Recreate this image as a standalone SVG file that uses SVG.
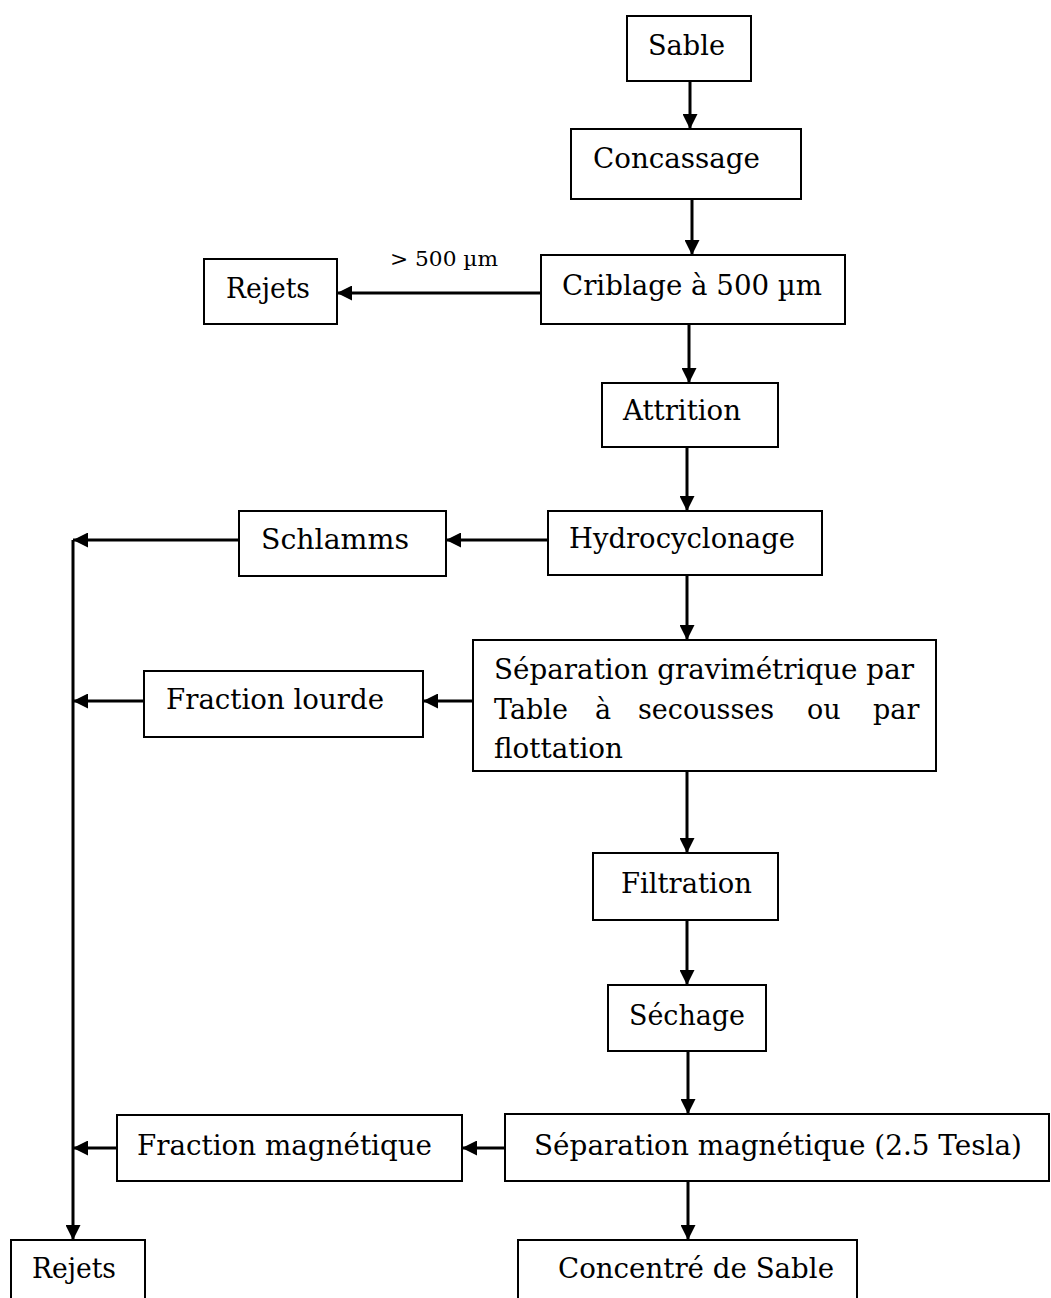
<svg xmlns="http://www.w3.org/2000/svg" width="1051" height="1298" viewBox="0 0 1051 1298">
  <style>
    .box { fill: #ffffff; stroke: #000000; stroke-width: 2; }
    .lbl { font-family: "DejaVu Serif", "Liberation Serif", serif; font-size: 27px; fill: #000000; }
    .small { font-family: "DejaVu Serif", "Liberation Serif", serif; font-size: 20px; fill: #000000; }
    .link { fill: none; stroke: #000000; stroke-width: 3; }
  </style>
  <defs>
    <marker id="arrow" markerUnits="userSpaceOnUse" markerWidth="15" markerHeight="15" refX="15" refY="7.5" orient="auto">
      <path d="M0,0 L15,7.5 L0,15 Z" fill="#000000"/>
    </marker>
  </defs>
  <rect width="1051" height="1298" fill="#ffffff"/>

  <!-- connectors -->
  <g id="connectors">
    <line class="link" x1="690" y1="81" x2="690" y2="129" marker-end="url(#arrow)"/>
    <line class="link" x1="692" y1="199" x2="692" y2="255" marker-end="url(#arrow)"/>
    <line class="link" x1="541" y1="293" x2="337" y2="293" marker-end="url(#arrow)"/>
    <line class="link" x1="689" y1="324" x2="689" y2="383" marker-end="url(#arrow)"/>
    <line class="link" x1="687" y1="447" x2="687" y2="511" marker-end="url(#arrow)"/>
    <line class="link" x1="548" y1="540" x2="446" y2="540" marker-end="url(#arrow)"/>
    <line class="link" x1="239" y1="540" x2="73" y2="540" marker-end="url(#arrow)"/>
    <line class="link" x1="73" y1="540" x2="73" y2="1240" marker-end="url(#arrow)"/>
    <line class="link" x1="687" y1="575" x2="687" y2="640" marker-end="url(#arrow)"/>
    <line class="link" x1="473" y1="701" x2="423" y2="701" marker-end="url(#arrow)"/>
    <line class="link" x1="144" y1="701" x2="73" y2="701" marker-end="url(#arrow)"/>
    <line class="link" x1="687" y1="771" x2="687" y2="853" marker-end="url(#arrow)"/>
    <line class="link" x1="687" y1="920" x2="687" y2="985" marker-end="url(#arrow)"/>
    <line class="link" x1="688" y1="1051" x2="688" y2="1114" marker-end="url(#arrow)"/>
    <line class="link" x1="505" y1="1148" x2="462" y2="1148" marker-end="url(#arrow)"/>
    <line class="link" x1="117" y1="1148" x2="73" y2="1148" marker-end="url(#arrow)"/>
    <line class="link" x1="688" y1="1181" x2="688" y2="1240" marker-end="url(#arrow)"/>
    <text class="small" x="390" y="266" textLength="108" lengthAdjust="spacingAndGlyphs">&gt; 500 µm</text>
  </g>

  <g id="sable">
    <rect class="box" x="627" y="16" width="124" height="65"/>
    <text class="lbl" x="648" y="55" textLength="77" lengthAdjust="spacingAndGlyphs">Sable</text>
  </g>
  <g id="concassage">
    <rect class="box" x="571" y="129" width="230" height="70"/>
    <text class="lbl" x="593" y="168" textLength="167" lengthAdjust="spacingAndGlyphs">Concassage</text>
  </g>
  <g id="criblage">
    <rect class="box" x="541" y="255" width="304" height="69"/>
    <text class="lbl" x="562" y="295" textLength="260" lengthAdjust="spacingAndGlyphs">Criblage à 500 µm</text>
  </g>
  <g id="rejets-haut">
    <rect class="box" x="204" y="259" width="133" height="65"/>
    <text class="lbl" x="226" y="298" textLength="84" lengthAdjust="spacingAndGlyphs">Rejets</text>
  </g>
  <g id="attrition">
    <rect class="box" x="602" y="383" width="176" height="64"/>
    <text class="lbl" x="623" y="420" textLength="118" lengthAdjust="spacingAndGlyphs">Attrition</text>
  </g>
  <g id="hydrocyclonage">
    <rect class="box" x="548" y="511" width="274" height="64"/>
    <text class="lbl" x="569" y="548" textLength="226" lengthAdjust="spacingAndGlyphs">Hydrocyclonage</text>
  </g>
  <g id="schlamms">
    <rect class="box" x="239" y="511" width="207" height="65"/>
    <text class="lbl" x="261" y="549" textLength="148" lengthAdjust="spacingAndGlyphs">Schlamms</text>
  </g>
  <g id="separation-gravimetrique">
    <rect class="box" x="473" y="640" width="463" height="131"/>
    <text class="lbl" x="494" y="679" textLength="420" lengthAdjust="spacingAndGlyphs">Séparation gravimétrique par</text>
    <text class="lbl" y="719"><tspan x="494">Table</tspan><tspan x="595">à</tspan><tspan x="638">secousses</tspan><tspan x="807">ou</tspan><tspan x="873">par</tspan></text>
    <text class="lbl" x="494" y="758" textLength="129" lengthAdjust="spacingAndGlyphs">flottation</text>
  </g>
  <g id="fraction-lourde">
    <rect class="box" x="144" y="671" width="279" height="66"/>
    <text class="lbl" x="166" y="709" textLength="218" lengthAdjust="spacingAndGlyphs">Fraction lourde</text>
  </g>
  <g id="filtration">
    <rect class="box" x="593" y="853" width="185" height="67"/>
    <text class="lbl" x="621" y="893" textLength="131" lengthAdjust="spacingAndGlyphs">Filtration</text>
  </g>
  <g id="sechage">
    <rect class="box" x="608" y="985" width="158" height="66"/>
    <text class="lbl" x="629" y="1025" textLength="116" lengthAdjust="spacingAndGlyphs">Séchage</text>
  </g>
  <g id="separation-magnetique">
    <rect class="box" x="505" y="1114" width="544" height="67"/>
    <text class="lbl" x="534" y="1155" textLength="488" lengthAdjust="spacingAndGlyphs">Séparation magnétique (2.5 Tesla)</text>
  </g>
  <g id="fraction-magnetique">
    <rect class="box" x="117" y="1115" width="345" height="66"/>
    <text class="lbl" x="137" y="1155" textLength="295" lengthAdjust="spacingAndGlyphs">Fraction magnétique</text>
  </g>
  <g id="rejets-bas">
    <rect class="box" x="11" y="1240" width="134" height="80"/>
    <text class="lbl" x="32" y="1278" textLength="84" lengthAdjust="spacingAndGlyphs">Rejets</text>
  </g>
  <g id="concentre">
    <rect class="box" x="518" y="1240" width="339" height="80"/>
    <text class="lbl" x="558" y="1278" textLength="276" lengthAdjust="spacingAndGlyphs">Concentré de Sable</text>
  </g>
</svg>
